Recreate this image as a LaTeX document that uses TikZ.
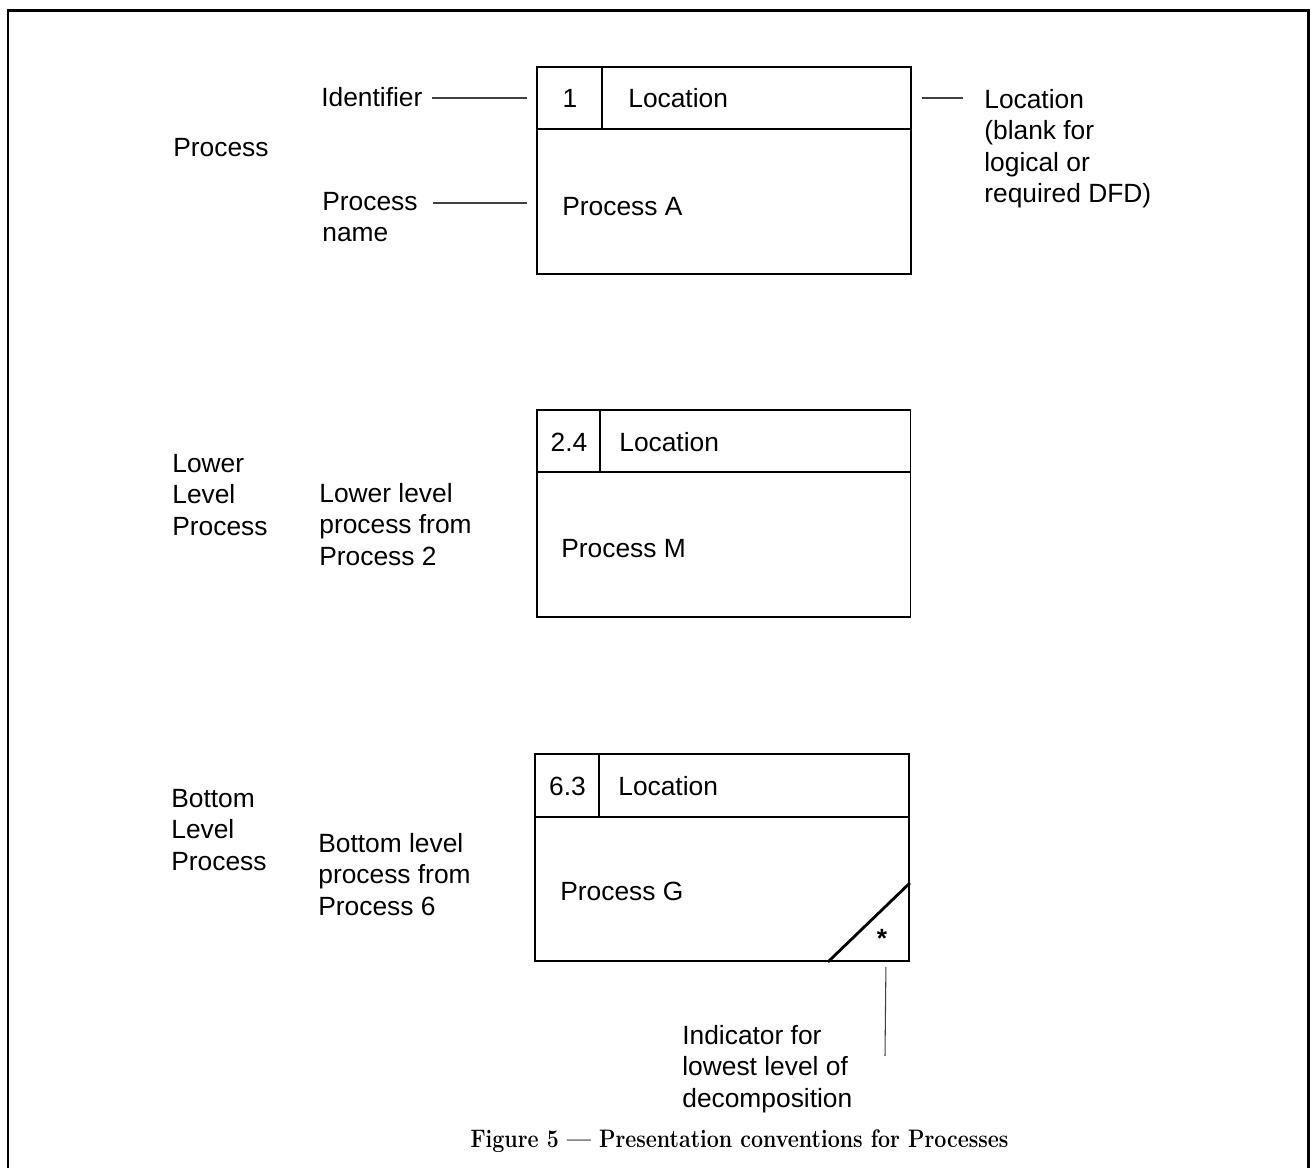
\documentclass[tikz,border=0pt]{standalone}
\usepackage{fontspec}
\usetikzlibrary{calc}
\newfontfamily\labelfamily{Liberation Sans}
\newcommand\labeltext{\labelfamily\fontsize{15}{17.9}\selectfont}
\newcommand\captiontext{\fontsize{12.2}{14}\selectfont\bfseries}

\begin{document}
\begin{tikzpicture}[x=0.02cm,y=-0.02cm,
  lbl/.style={font=\labeltext, inner sep=0pt, anchor=north west, align=left},
  procbox/.style={draw, line width=1.1pt, minimum width=7.48cm, minimum height=4.14cm, inner sep=0pt},
  divider/.style={line width=1.1pt},
  corner/.style={line width=1.6pt},
  leader/.style={line width=0.6pt, black!75},
  frame/.style={line width=1.7pt}]

\useasboundingbox (0,0) rectangle (1316,1168);
\clip (0,0) rectangle (1316,1168);

% outer frame, open at the bottom
\draw[frame] (8,1180) -- (8,11) -- (1308,11) -- (1308,1180);

% ---------- top-level process ----------
\node[procbox] (pa) at (724,170.5) {};
\draw[divider] ($(pa.north west)+(0,63)$) -- ($(pa.north east)+(0,63)$);
\draw[divider] ($(pa.north west)+(66,0)$) -- ($(pa.north west)+(66,63)$);
\node[lbl, anchor=base] (pa-id) at (570,108) {1};
\node[lbl, anchor=base west] (pa-loc) at (628,108) {Location};
\node[lbl, anchor=base west] (pa-name) at (562,216) {Process A};

\node[lbl, anchor=base west] (kind1) at (173,157) {Process};
\node[lbl, anchor=base west] (ident) at (321,107) {Identifier};
\node[lbl] (pname) at (322,192) {Process\\name};
\node[lbl] (locnote) at (984,89) {Location\\(blank for\\logical or\\required DFD)};

\draw[leader] ($(ident.base east)+(9,-9)$) -- ($(pa.west |- ident.base)+(-9,-9)$);
\draw[leader] ($(pname.north east)+(15,11)$) -- ($(pa.west |- pname.north)+(-9,11)$);
\draw[leader] ($(pa.east |- locnote.north)+(10,9)$) -- ($(locnote.north west)+(-21,9)$);

% ---------- lower level process ----------
\node[procbox] (pm) at (723.5,513.5) {};
\draw[divider] ($(pm.north west)+(0,63)$) -- ($(pm.north east)+(0,63)$);
\draw[divider] ($(pm.north west)+(64,0)$) -- ($(pm.north west)+(64,63)$);
\node[lbl, anchor=base] (pm-id) at (569,452) {2.4};
\node[lbl, anchor=base west] (pm-loc) at (619,452) {Location};
\node[lbl, anchor=base west] (pm-name) at (561,558) {Process M};

\node[lbl] (kind2) at (172,454) {Lower\\Level\\Process};
\node[lbl] (pm-note) at (319,483) {Lower level\\process from\\Process 2};

% ---------- bottom level process ----------
\node[procbox] (pg) at (722,857.5) {};
\draw[divider] ($(pg.north west)+(0,64)$) -- ($(pg.north east)+(0,64)$);
\draw[divider] ($(pg.north west)+(65,0)$) -- ($(pg.north west)+(65,64)$);
\draw[corner] ($(pg.south east)+(-82,0)$) -- ($(pg.south east)+(0,-79)$);
\node[lbl, anchor=base] (pg-id) at (567.5,796) {6.3};
\node[lbl, anchor=base west] (pg-loc) at (618,796) {Location};
\node[lbl, anchor=base west] (pg-name) at (560,901) {Process G};
\node[lbl, anchor=base, font=\labeltext\bfseries] (pg-star) at ($(pg.south east)+(-28,-14)$) {*};

\node[lbl] (kind3) at (171,789) {Bottom\\Level\\Process};
\node[lbl] (pg-note) at (318,833) {Bottom level\\process from\\Process 6};
\node[lbl] (indnote) at (682,1025) {Indicator for\\lowest level of\\decomposition};

\coordinate (indend) at (885,1056);
\draw[leader] ($(pg.south east)+(-24,5)$) -- (indend);

% ---------- caption ----------
\node[anchor=base, inner sep=0pt] (caption) at (739.5,1147)
  {\scalebox{1}[1.18]{\captiontext Figure 5 --- Presentation conventions for Processes}};

\end{tikzpicture}
\end{document}
